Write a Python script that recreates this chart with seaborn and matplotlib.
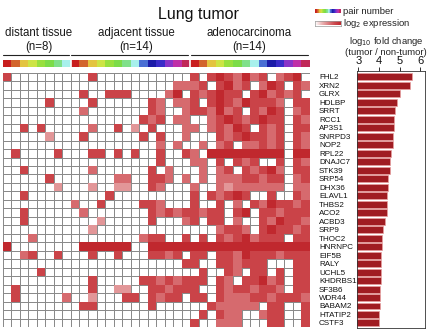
import numpy as np
import pandas as pd
import matplotlib
matplotlib.use("Agg")
import matplotlib.pyplot as plt
import matplotlib.transforms as mtransforms
import seaborn as sns
from matplotlib.colors import ListedColormap, LinearSegmentedColormap

# ---------------- data ----------------
genes = ["FHL2", "XRN2", "GLRX", "HDLBP", "SRRT", "RCC1", "AP3S1", "SNRPD3",
         "NOP2", "RPL22", "DNAJC7", "STK39", "SRP54", "DHX36", "ELAVL1", "THBS2",
         "ACO2", "ACBD3", "SRP9", "THOC2", "HNRNPC", "EIF5B", "RALY", "UCHL5",
         "KHDRBS1", "SF3B6", "WDR44", "BABAM2", "HTATIP2", "CSTF3"]

log10_fold_change = [5.59, 5.51, 5.03, 4.87, 4.75, 4.74, 4.72, 4.70, 4.67, 4.59,
                     4.55, 4.55, 4.42, 4.42, 4.40, 4.37, 4.37, 4.29, 4.21, 4.15,
                     4.15, 4.11, 4.10, 4.10, 4.08, 4.06, 4.03, 4.03, 4.01, 4.01]
fc_ticks = [3, 4, 5, 6]

group_labels = ["distant tissue", "adjacent tissue", "adenocarcinoma"]
group_sizes = [8, 14, 14]
pair_numbers = list(range(1, 9)) + list(range(1, 15)) + list(range(1, 15))
pair_colors = ["#c81e1e", "#d2642c", "#e3c440", "#cde445", "#98e03e", "#7cdc48",
               "#80e08a", "#a8f0ec", "#4a6fd4", "#1c1ca8", "#3a2cc8", "#8a34c8",
               "#c030a8", "#c02858"]

# log2 expression per gene (rows) and sample (columns); '.' = not detected
# groups: distant(8) adjacent(14) adenocarcinoma(14)
expression_rows = [
    "4....... ..4........... 4.4543534.345.",
    "........ ............33 34.4534.354.43",
    "........ .4..444....35. 434544.453434.",
    ".....4.. ..4......43.33 4.454354443.44",
    "........ .3.......43..3 443534.4354.34",
    "........ ........434.33 ..345434544.43",
    "..4.4... ..3..4.2.4...3 3.34354.434.44",
    ".....2.. .4......4.4..3 ...43454434.43",
    "........ ..........3.3. .3.34.33434.43",
    ".4....4. ..44.4.4..4..4 3.555555555.55",
    "........ ..........4... 33.4.434..4.43",
    "..4..... ..3......4.3.. .3.34.43453.44",
    ".....4.. .....33..443.3 .3.33344344.34",
    "......2. ..2..22..43... 3..32333333.33",
    "..4..... ....4......... 4.43454..4..43",
    "........ 3..4....443... 4..4.3.4354434",
    "..4..... .3.......43434 4344.45.443444",
    "..4..... ...2.....4...3 4.44.3..435443",
    "........ ..2........... ...3443.454434",
    "...3.... ........344..4 .4.43453444.44",
    "5....... .555555..55555 55555555555555",
    "..34..4. ..4..4...4434. 44.44354443444",
    "........ .............4 4..443444...44",
    "....4... .............. .4..43.44.4.44",
    "........ ..4.....443434 44.43.44534.44",
    ".4...... ..4..22..44344 4..43443443.44",
    ".4.....3 ..2...44.4344. 44.43334434443",
    "........ .44......4.... ..433333.44..4",
    "........ .............. .4.433..344..4",
    "........ .............. 4..333...44..4",
]

# ---------------- figure ----------------
sns.set_theme(style="white")
plt.rcParams["font.family"] = ["Liberation Sans", "DejaVu Sans"]

W, H = 436, 332
fig = plt.figure(figsize=(W / 100, H / 100), dpi=100)


def fbox(x0, y0, x1, y1):
    return [x0 / W, 1 - y1 / H, (x1 - x0) / W, (y1 - y0) / H]


hm_x0, hm_x1, hm_y0, hm_y1 = 2.7, 309.8, 72.7, 327.2

expr = pd.DataFrame(
    [[np.nan if c == "." else float(c) for c in r.replace(" ", "")] for r in expression_rows],
    index=genes)
n_rows, n_cols = expr.shape

expr_cmap = LinearSegmentedColormap.from_list(
    "expr", ["#ffffff", "#ecb8b8", "#dc7f82", "#cd4a4f", "#c0282e"])

ax_hm = fig.add_axes(fbox(hm_x0, hm_y0, hm_x1, hm_y1))
# background grid (white cells, gray lines)
sns.heatmap(expr.fillna(0) * 0, ax=ax_hm, cmap=expr_cmap, vmin=0, vmax=5, cbar=False,
            linewidths=0.6, linecolor="#8a8a8a", xticklabels=False, yticklabels=False)
# expressed cells on top
sns.heatmap(expr, ax=ax_hm, cmap=expr_cmap, vmin=0, vmax=5, cbar=False,
            mask=expr.isna(), linewidths=0, xticklabels=False, yticklabels=False)
ax_hm.set_xlim(0, n_cols)
ax_hm.set_ylim(n_rows, 0)
ax_hm.set_xlabel("")
ax_hm.set_ylabel("")

# pair-number colour strip
ax_pair = fig.add_axes(fbox(hm_x0, 60.0, hm_x1, 66.7))
sns.heatmap(pd.DataFrame([pair_numbers]), ax=ax_pair, cmap=ListedColormap(pair_colors),
            vmin=0.5, vmax=14.5, cbar=False, xticklabels=False, yticklabels=False)
bounds = np.cumsum([0] + group_sizes)
for b in bounds[1:-1]:
    ax_pair.axvline(b, color="white", lw=1.2)

trans = mtransforms.blended_transform_factory(ax_pair.transData, ax_pair.transAxes)
line_y = (66.7 - 55.0) / 6.7
for i in range(3):
    ax_pair.plot([bounds[i] + 0.05, bounds[i + 1] - 0.25], [line_y, line_y],
                 transform=trans, color="#222222", lw=0.8, clip_on=False)

label_px = [38.5, 136.0, 249.0]
for lab, n, xp in zip(group_labels, group_sizes, label_px):
    fig.text(xp / W, 1 - 33 / H, lab, ha="center", va="center", fontsize=8.3, color="#1a1a1a")
    fig.text(xp / W, 1 - 47 / H, f"(n={n})", ha="center", va="center", fontsize=8.3, color="#1a1a1a")

fig.text(198 / W, 1 - 15 / H, "Lung tumor", ha="center", va="center", fontsize=11.5, color="#111111")

# legend swatches
ax_l1 = fig.add_axes(fbox(315, 9, 341, 13.5))
ax_l1.imshow(np.arange(14)[None, :], cmap=ListedColormap(pair_colors), aspect="auto")
ax_l1.set_axis_off()
ax_l2 = fig.add_axes(fbox(315, 21, 341, 25.5))
ax_l2.imshow(np.linspace(0, 5, 50)[None, :], cmap=expr_cmap, vmin=0, vmax=5, aspect="auto")
ax_l2.set_xticks([]); ax_l2.set_yticks([])
for s in ax_l2.spines.values():
    s.set_color("#999999"); s.set_linewidth(0.5)
fig.text(343 / W, 1 - 11 / H, "pair number", ha="left", va="center", fontsize=6.8, color="#222222")
fig.text(343 / W, 1 - 23 / H, "log$_2$ expression", ha="left", va="center", fontsize=6.8, color="#222222")

fig.text(386 / W, 1 - 42 / H, "log$_{10}$ fold change", ha="center", va="center", fontsize=6.8, color="#222222")
fig.text(386 / W, 1 - 52.5 / H, "(tumor / non-tumor)", ha="center", va="center", fontsize=6.8, color="#222222")

# bar chart
ax_bar = fig.add_axes(fbox(357, hm_y0 - 1.5, 425, hm_y1 + 1))
fc_df = pd.DataFrame({"gene": genes, "fc": log10_fold_change})
sns.barplot(data=fc_df, y="gene", x="fc", orient="h", ax=ax_bar, color="#a01c22",
            saturation=1, width=0.82, edgecolor="#e8a0a0", linewidth=0.5)
px_per_unit = 20.7
ax_bar.set_xlim(3 + (357 - 358.3) / px_per_unit, 3 + (425 - 358.3) / px_per_unit)
row_px = (hm_y1 - hm_y0) / n_rows
ax_bar.set_ylim(n_rows - 0.5 + 1 / row_px, -0.5 - 1.5 / row_px)
ax_bar.xaxis.tick_top()
ax_bar.set_xticks(fc_ticks)
ax_bar.tick_params(axis="x", direction="out", length=3, width=0.6, pad=1, labelsize=8, colors="#111111")
ax_bar.tick_params(axis="y", length=0, pad=38 * 0.72, labelsize=5.8, colors="#111111")
for t in ax_bar.get_yticklabels():
    t.set_ha("left")
ax_bar.set_xlabel("")
ax_bar.set_ylabel("")
for s in ax_bar.spines.values():
    s.set_color("#333333"); s.set_linewidth(0.6)

fig.savefig("out.png", dpi=100)
